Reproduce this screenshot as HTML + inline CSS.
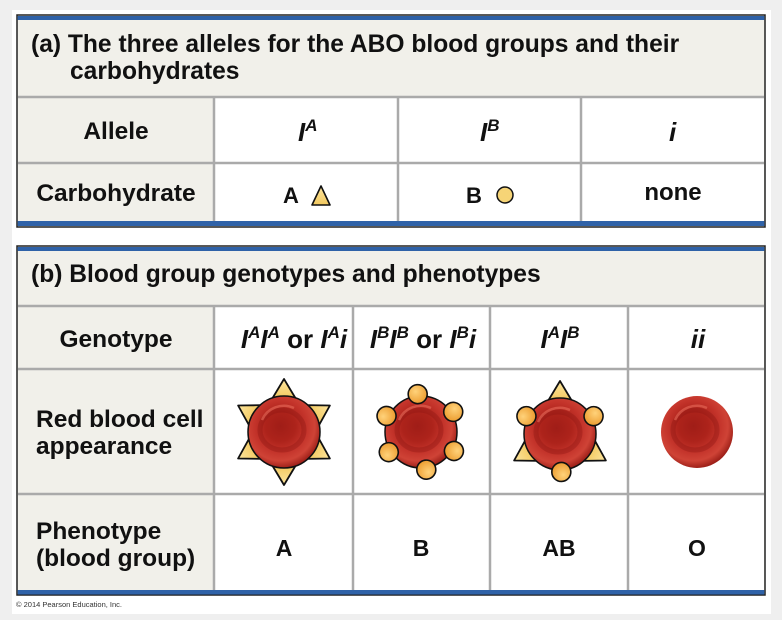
<!DOCTYPE html>
<html><head><meta charset="utf-8"><style>
html,body{margin:0;padding:0;background:#efefef;}
svg{display:block;}
text{font-family:"Liberation Sans",Arial,sans-serif;font-weight:bold;fill:#111;}
text.cp{font-weight:normal;fill:#333;}
</style></head><body>
<svg width="782" height="620" viewBox="0 0 782 620" xmlns="http://www.w3.org/2000/svg">
<defs>
<radialGradient id="rbc" cx="0.45" cy="0.42" r="0.6">
<stop offset="0" stop-color="#a01d17"/>
<stop offset="0.35" stop-color="#ad231b"/>
<stop offset="0.6" stop-color="#c3332a"/>
<stop offset="0.8" stop-color="#cf4336"/>
<stop offset="1" stop-color="#961a14"/>
</radialGradient>
<radialGradient id="ball" cx="0.4" cy="0.35" r="0.7">
<stop offset="0" stop-color="#ffd27a"/>
<stop offset="1" stop-color="#eb9a2c"/>
</radialGradient>
<linearGradient id="tri" x1="0" y1="0" x2="0" y2="1">
<stop offset="0" stop-color="#fde6a0"/>
<stop offset="1" stop-color="#f2c85e"/>
</linearGradient>
<g id="t"><polygon points="-12,-33 12,-33 0,-53" fill="url(#tri)" stroke="#111" stroke-width="1.8" stroke-linejoin="round"/></g>
<g id="cell">
<circle r="36" fill="url(#rbc)"/>
<ellipse cx="-2" cy="-2" rx="22" ry="20" fill="none" stroke="#8a1510" stroke-width="5" opacity="0.35"/>
<path d="M-22,-12 A24,24 0 0 1 10,-24" fill="none" stroke="#e86b5a" stroke-width="2.5" opacity="0.6"/>
</g>
<g id="b"><circle cx="0" cy="-38" r="9.5" fill="url(#ball)" stroke="#111" stroke-width="1.6"/></g>
</defs>
<rect x="12" y="10" width="759" height="604" fill="#fff"/>

<!-- Panel A -->
<rect x="17" y="15" width="748" height="212" fill="#f1f0ea" stroke="#222" stroke-width="1.5"/>
<rect x="17.7" y="16" width="746.6" height="4" fill="#2f62a8"/>
<rect x="215" y="97" width="549" height="124" fill="#fff"/>
<rect x="17.7" y="221" width="746.6" height="5" fill="#2f62a8"/>
<g stroke="#aaa" stroke-width="2.5">
<line x1="18" y1="97" x2="764" y2="97"/>
<line x1="18" y1="163" x2="764" y2="163"/>
<line x1="214" y1="97" x2="214" y2="221"/>
<line x1="398" y1="97" x2="398" y2="221"/>
<line x1="581" y1="97" x2="581" y2="221"/>
</g>
<text x="31" y="52" font-size="24.6">(a) The three alleles for the ABO blood groups and their</text>
<text x="70" y="79" font-size="24.6">carbohydrates</text>
<text x="116" y="139" font-size="24.5" text-anchor="middle">Allele</text>
<text x="116" y="201" font-size="24.5" text-anchor="middle">Carbohydrate</text>
<text x="298" y="141" font-size="26" font-style="italic">I<tspan font-size="17" dy="-10">A</tspan></text>
<text x="480" y="141" font-size="26" font-style="italic">I<tspan font-size="17" dy="-10">B</tspan></text>
<text x="669" y="141" font-size="26" font-style="italic">i</text>
<text x="283" y="203" font-size="22">A</text>
<polygon points="312,205 330,205 321,186" fill="url(#tri)" stroke="#111" stroke-width="1.6" stroke-linejoin="round"/>
<text x="466" y="203" font-size="22">B</text>
<circle cx="505" cy="195" r="8" fill="#f6d476" stroke="#111" stroke-width="1.5"/>
<text x="673" y="200" font-size="24" text-anchor="middle">none</text>

<!-- Panel B -->
<rect x="17" y="246" width="748" height="349" fill="#f1f0ea" stroke="#222" stroke-width="1.5"/>
<rect x="17.7" y="247" width="746.6" height="4" fill="#2f62a8"/>
<rect x="215" y="306" width="549" height="284" fill="#fff"/>
<rect x="17.7" y="590" width="746.6" height="4.5" fill="#2f62a8"/>
<g stroke="#aaa" stroke-width="2.5">
<line x1="18" y1="306" x2="764" y2="306"/>
<line x1="18" y1="369" x2="764" y2="369"/>
<line x1="18" y1="494" x2="764" y2="494"/>
<line x1="214" y1="306" x2="214" y2="590"/>
<line x1="353" y1="306" x2="353" y2="590"/>
<line x1="490" y1="306" x2="490" y2="590"/>
<line x1="628" y1="306" x2="628" y2="590"/>
</g>
<text x="31" y="282" font-size="24.6">(b) Blood group genotypes and phenotypes</text>
<text x="116" y="347" font-size="24.5" text-anchor="middle">Genotype</text>
<text x="36" y="427" font-size="24.5">Red blood cell</text>
<text x="36" y="454" font-size="24.5">appearance</text>
<text x="36" y="539" font-size="24.5">Phenotype</text>
<text x="36" y="566" font-size="24.5">(blood group)</text>

<text x="294" y="348" font-size="26" font-style="italic" text-anchor="middle">I<tspan font-size="17" dy="-10">A</tspan><tspan dy="10">I</tspan><tspan font-size="17" dy="-10">A</tspan><tspan dy="10" font-style="normal"> or </tspan>I<tspan font-size="17" dy="-10">A</tspan><tspan dy="10">i</tspan></text>
<text x="423" y="348" font-size="26" font-style="italic" text-anchor="middle">I<tspan font-size="17" dy="-10">B</tspan><tspan dy="10">I</tspan><tspan font-size="17" dy="-10">B</tspan><tspan dy="10" font-style="normal"> or </tspan>I<tspan font-size="17" dy="-10">B</tspan><tspan dy="10">i</tspan></text>
<text x="560" y="348" font-size="26" font-style="italic" text-anchor="middle">I<tspan font-size="17" dy="-10">A</tspan><tspan dy="10">I</tspan><tspan font-size="17" dy="-10">B</tspan></text>
<text x="698" y="348" font-size="26" font-style="italic" text-anchor="middle">ii</text>

<!-- A cell -->
<g transform="translate(284,432)">
<use href="#t" transform="rotate(0)"/><use href="#t" transform="rotate(60)"/><use href="#t" transform="rotate(120)"/>
<use href="#t" transform="rotate(180)"/><use href="#t" transform="rotate(240)"/><use href="#t" transform="rotate(300)"/>
<use href="#cell"/>
<circle r="36" fill="none" stroke="#111" stroke-width="1.5"/>
</g>
<!-- B cell -->
<g transform="translate(421,432)">
<use href="#cell"/>
<circle r="36" fill="none" stroke="#111" stroke-width="1.5"/>
<use href="#b" transform="rotate(-5)"/><use href="#b" transform="rotate(58)"/><use href="#b" transform="rotate(120)"/>
<use href="#b" transform="rotate(172)"/><use href="#b" transform="rotate(238)"/><use href="#b" transform="rotate(295)"/>
</g>
<!-- AB cell -->
<g transform="translate(560,434)">
<use href="#t" transform="rotate(0)"/><use href="#t" transform="rotate(120)"/><use href="#t" transform="rotate(240)"/>
<use href="#cell"/>
<circle r="36" fill="none" stroke="#111" stroke-width="1.5"/>
<use href="#b" transform="rotate(62)"/><use href="#b" transform="rotate(178)"/><use href="#b" transform="rotate(298)"/>
</g>
<!-- O cell -->
<g transform="translate(697,432)">
<use href="#cell"/>
</g>

<text x="284" y="556" font-size="23" text-anchor="middle">A</text>
<text x="421" y="556" font-size="23" text-anchor="middle">B</text>
<text x="559" y="556" font-size="23" text-anchor="middle">AB</text>
<text x="697" y="556" font-size="23" text-anchor="middle">O</text>

<text class="cp" x="16" y="607" font-size="7.5">© 2014 Pearson Education, Inc.</text>
</svg>
</body></html>
